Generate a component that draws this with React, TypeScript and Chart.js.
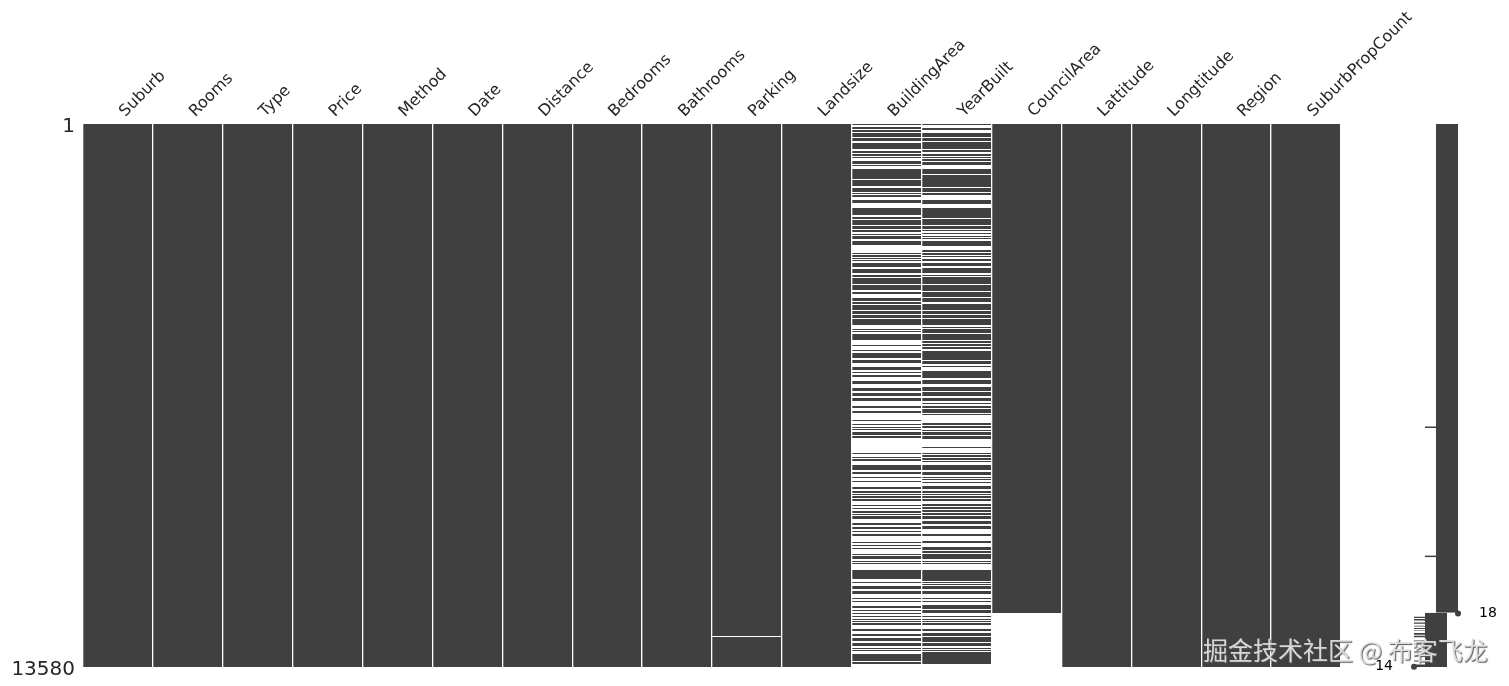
import Chart from 'chart.js/auto'
import { useEffect, useRef } from 'react'

const columns = [
  'Suburb', 'Rooms', 'Type', 'Price', 'Method', 'Date', 'Distance', 'Bedrooms', 'Bathrooms',
  'Parking', 'Landsize', 'BuildingArea', 'YearBuilt', 'CouncilArea', 'Lattitude', 'Longtitude',
  'Region', 'SuburbPropCount'
]
const rowTicks = [1, 13580]

// missing row ranges
const parkingMissing = [[12803, 12828]]
const councilAreaMissing = [[12225, 13580]]
const buildingAreaMissing = [
  [25, 67], [117, 150], [192, 217], [334, 359], [417, 467], [634, 676], [717, 759], [801, 834],
  [851, 917], [1009, 1034], [1051, 1134], [1368, 1401], [1551, 1601], [1701, 1726], [1760, 1776],
  [1826, 1901], [1976, 2102], [2285, 2319], [2369, 2385], [2527, 2560], [2619, 2635], [2702, 2744],
  [2777, 2802], [2869, 2927], [3027, 3219], [3253, 3286], [3319, 3353], [3386, 3403], [3436, 3469],
  [3578, 3620], [3720, 3778], [3820, 3836], [3995, 4028], [4162, 4195], [4253, 4345], [4420, 4454],
  [4504, 4537], [4650, 4675], [4759, 4784], [4842, 4875], [5026, 5126], [5151, 5176], [5201, 5251],
  [5401, 5526], [5551, 5651], [5676, 5726], [5851, 5901], [5968, 6076], [6160, 6201], [6235, 6277],
  [6335, 6427], [6502, 6602], [6685, 6719], [6802, 6852], [6927, 7052], [7094, 7177], [7219, 7402],
  [7427, 7502], [7527, 7569], [7603, 7636], [7653, 7703], [7778, 7803], [7861, 8228], [8261, 8320],
  [8353, 8387], [8420, 8528], [8653, 8703], [8753, 8829], [8862, 8929], [8962, 9070], [9125, 9175],
  [9225, 9259], [9284, 9300], [9342, 9375], [9425, 9525], [9550, 9600], [9625, 9675], [9725, 9751],
  [9776, 9809], [9876, 9976], [10026, 10076], [10126, 10176], [10209, 10251], [10301, 10451],
  [10476, 10526], [10551, 10601], [10626, 10751], [10776, 10801], [10868, 10926], [10951, 10985],
  [11002, 11152], [11377, 11452], [11477, 11552], [11627, 11677], [11752, 11852], [11877, 11927],
  [11952, 12052], [12102, 12152], [12177, 12219], [12252, 12302], [12327, 12377], [12403, 12428],
  [12444, 12478], [12528, 12628], [12678, 12753], [12803, 12853], [12928, 12978], [13053, 13103],
  [13128, 13162], [13178, 13253], [13420, 13453], [13503, 13580]
]
const yearBuiltMissing = [
  [33, 67], [83, 108], [158, 225], [334, 350], [425, 459], [634, 659], [709, 742], [801, 826],
  [851, 884], [926, 959], [1026, 1126], [1251, 1276], [1568, 1601], [1701, 1726], [1785, 1901],
  [2002, 2102], [2344, 2369], [2535, 2560], [2619, 2644], [2685, 2719], [2761, 2794], [2819, 2836],
  [2886, 2927], [3052, 3152], [3203, 3228], [3269, 3303], [3336, 3369], [3428, 3486], [3553, 3611],
  [3728, 3778], [3803, 3828], [4003, 4028], [4178, 4212], [4320, 4353], [4462, 4504], [4650, 4675],
  [4759, 4784], [4850, 4875], [5034, 5067], [5101, 5126], [5217, 5251], [5401, 5426], [5476, 5501],
  [5551, 5576], [5626, 5676], [5893, 5926], [6001, 6051], [6068, 6168], [6352, 6402], [6502, 6577],
  [6677, 6710], [6810, 6852], [6927, 6977], [7002, 7052], [7094, 7111], [7227, 7252], [7277, 7477],
  [7527, 7552], [7603, 7653], [7678, 7703], [7778, 7803], [7878, 8078], [8103, 8228], [8253, 8278],
  [8328, 8353], [8403, 8428], [8453, 8528], [8653, 8703], [8778, 8829], [8854, 8879], [8904, 8954],
  [8979, 9054], [9125, 9175], [9225, 9259], [9284, 9309], [9359, 9384], [9425, 9500], [9550, 9575],
  [9625, 9650], [9701, 9726], [9776, 9801], [9876, 9926], [10001, 10051], [10126, 10251],
  [10301, 10426], [10476, 10576], [10651, 10676], [10726, 10751], [10876, 10926], [10951, 10976],
  [11002, 11152], [11427, 11452], [11477, 11502], [11527, 11552], [11627, 11677], [11752, 11852],
  [11877, 11927], [11952, 12027], [12127, 12152], [12227, 12302], [12327, 12377], [12403, 12428],
  [12453, 12478], [12528, 12628], [12678, 12728], [12803, 12828], [12953, 12978], [13053, 13095],
  [13128, 13153], [13178, 13203], [13503, 13580]
]

// completeness sparkline on the right
const sparkUpperRows = [1, 12225]
const sparkLowerRows = [12225, 13580]
const sparkDipRows = [7584, 10813]
const sparkLowestRows = [
  [12315, 12352], [12382, 12415], [12465, 12498], [12548, 12565], [12607, 12632], [12665, 12682],
  [12732, 12773], [12798, 12833], [12916, 12941], [12991, 13016], [13091, 13116], [13191, 13216],
  [13291, 13316], [13416, 13441], [13516, 13580]
]
const sparkMaxPoint = { x: 18, y: 12240 }
const sparkMinPoint = { x: 14, y: 13575 }

const GREY = '#404040'
const W = 1509
const H = 686

const missingByColumn: Record<string, number[][]> = {
  Parking: parkingMissing,
  BuildingArea: buildingAreaMissing,
  YearBuilt: yearBuiltMissing,
  CouncilArea: councilAreaMissing
}

function gapDatasets() {
  const lists = columns.map(c => missingByColumn[c] || [])
  const count = Math.max(...lists.map(l => l.length))
  const sets = []
  for (let k = 0; k < count; k++) {
    sets.push({
      data: lists.map(l => l[k] || null),
      backgroundColor: '#ffffff',
      borderWidth: 0
    })
  }
  return sets
}

// rows are thinner than a pixel, round the bar edges so stripes stay crisp instead of grey
const snapRows = {
  id: 'snapRows',
  beforeDatasetsDraw(chart: any) {
    chart.getSortedVisibleDatasetMetas().forEach((meta: any) => {
      meta.data.forEach((el: any) => {
        if (!Number.isFinite(el.y) || !Number.isFinite(el.base)) return
        el.y = Math.round(el.y)
        el.base = Math.round(el.base)
        if (el.base === el.y) el.base = el.y + 1
      })
    })
  }
}

const sparkLabels = {
  id: 'sparkLabels',
  afterDatasetsDraw(chart: any) {
    const { ctx, scales } = chart
    ctx.save()
    ctx.fillStyle = '#000'
    ctx.font = "14px 'DejaVu Sans'"
    ctx.textBaseline = 'middle'
    ctx.textAlign = 'left'
    ctx.fillText(String(sparkMaxPoint.x), scales.x.getPixelForValue(sparkMaxPoint.x) + 21, scales.y.getPixelForValue(sparkMaxPoint.y))
    ctx.textAlign = 'right'
    ctx.fillText(String(sparkMinPoint.x), scales.x.getPixelForValue(sparkMinPoint.x) - 21, scales.y.getPixelForValue(sparkMinPoint.y))
    ctx.restore()
  }
}

export default function App() {
  const matrixRef = useRef<HTMLCanvasElement>(null)
  const sparkRef = useRef<HTMLCanvasElement>(null)

  useEffect(() => {
    if (!matrixRef.current || !sparkRef.current) return () => {}

    const matrix = new Chart(matrixRef.current, {
      type: 'bar',
      data: {
        labels: columns,
        datasets: [
          ...gapDatasets(),
          // first dataset is painted last, so the full columns go at the end
          {
            data: columns.map(() => [rowTicks[0], rowTicks[1]]),
            backgroundColor: GREY,
            borderWidth: 0
          }
        ] as any
      },
      options: {
        animation: false,
        responsive: false,
        devicePixelRatio: 1,
        layout: { padding: { left: 0, top: 0, right: W - 1341, bottom: H - 667 } },
        datasets: { bar: { grouped: false, barPercentage: 1, categoryPercentage: 1, inflateAmount: 0 } },
        plugins: { legend: { display: false }, tooltip: { enabled: false } },
        scales: {
          x: {
            type: 'category',
            position: 'top',
            offset: true,
            afterFit: (s: any) => { s.height = 124 },
            border: { display: false },
            grid: { color: '#ffffff', lineWidth: 1.3, offset: true, drawTicks: false, z: 1 },
            ticks: {
              autoSkip: false,
              minRotation: 45,
              maxRotation: 45,
              padding: 3,
              labelOffset: 18,
              color: '#262626',
              font: { family: 'DejaVu Sans', size: 16 }
            }
          },
          y: {
            type: 'linear',
            reverse: true,
            min: rowTicks[0],
            max: rowTicks[1],
            afterFit: (s: any) => { s.width = 83 },
            afterBuildTicks: (s: any) => { s.ticks = rowTicks.map(value => ({ value })) },
            border: { display: false },
            grid: { display: false },
            ticks: {
              autoSkip: false,
              padding: 0,
              labelOffset: 3,
              color: '#262626',
              font: { family: 'DejaVu Sans', size: 20 },
              callback: (v: any) => String(v)
            }
          }
        }
      },
      plugins: [snapRows]
    })

    const spark = new Chart(sparkRef.current, {
      type: 'line',
      data: {
        datasets: [
          {
            data: sparkUpperRows.map(y => ({ x: 18, y })),
            fill: { value: 16 },
            backgroundColor: GREY,
            borderWidth: 0,
            pointRadius: 0
          },
          {
            data: sparkLowerRows.map(y => ({ x: 17, y })),
            fill: { value: 15 },
            backgroundColor: GREY,
            borderWidth: 0,
            pointRadius: 0
          },
          {
            data: sparkLowestRows.flatMap(([a, b]) => [
              { x: 15, y: a }, { x: 14, y: a }, { x: 14, y: b }, { x: 15, y: b }
            ]),
            fill: { value: 15 },
            backgroundColor: GREY,
            borderWidth: 0,
            pointRadius: 0
          },
          ...sparkDipRows.map(y => ({
            data: [{ x: 15, y }, { x: 16, y }],
            fill: false,
            borderColor: GREY,
            borderWidth: 1.5,
            pointRadius: 0
          })),
          {
            data: [sparkMaxPoint, sparkMinPoint],
            showLine: false,
            fill: false,
            pointRadius: 3,
            pointBackgroundColor: GREY,
            pointBorderWidth: 0
          }
        ] as any
      },
      options: {
        animation: false,
        responsive: false,
        devicePixelRatio: 1,
        indexAxis: 'y',
        layout: { padding: { left: 1414, top: 124, right: W - 1458, bottom: H - 667 } },
        clip: false,
        plugins: { legend: { display: false }, tooltip: { enabled: false } },
        scales: {
          x: { type: 'linear', min: 14, max: 18, display: false },
          y: { type: 'linear', min: 1, max: 13580, reverse: true, display: false }
        }
      } as any,
      plugins: [sparkLabels]
    })

    return () => {
      matrix.destroy()
      spark.destroy()
    }
  }, [])

  const layer = { position: 'absolute', left: 0, top: 0 } as const

  return (
    <div style={{ position: 'fixed', left: 0, top: 0, width: W, height: H, background: '#fff', overflow: 'hidden' }}>
      <canvas ref={matrixRef} width={W} height={H} style={layer} />
      <canvas ref={sparkRef} width={W} height={H} style={layer} />
      <div
        style={{
          position: 'absolute',
          left: 1203,
          top: 632,
          fontFamily: "'Noto Sans CJK SC'",
          fontSize: 25,
          lineHeight: '34px',
          whiteSpace: 'nowrap',
          color: 'rgba(228,228,228,0.92)',
          textShadow: '1px 1px 1px #555'
        }}
      >
        掘金技术社区 @ 布客飞龙
      </div>
    </div>
  )
}
